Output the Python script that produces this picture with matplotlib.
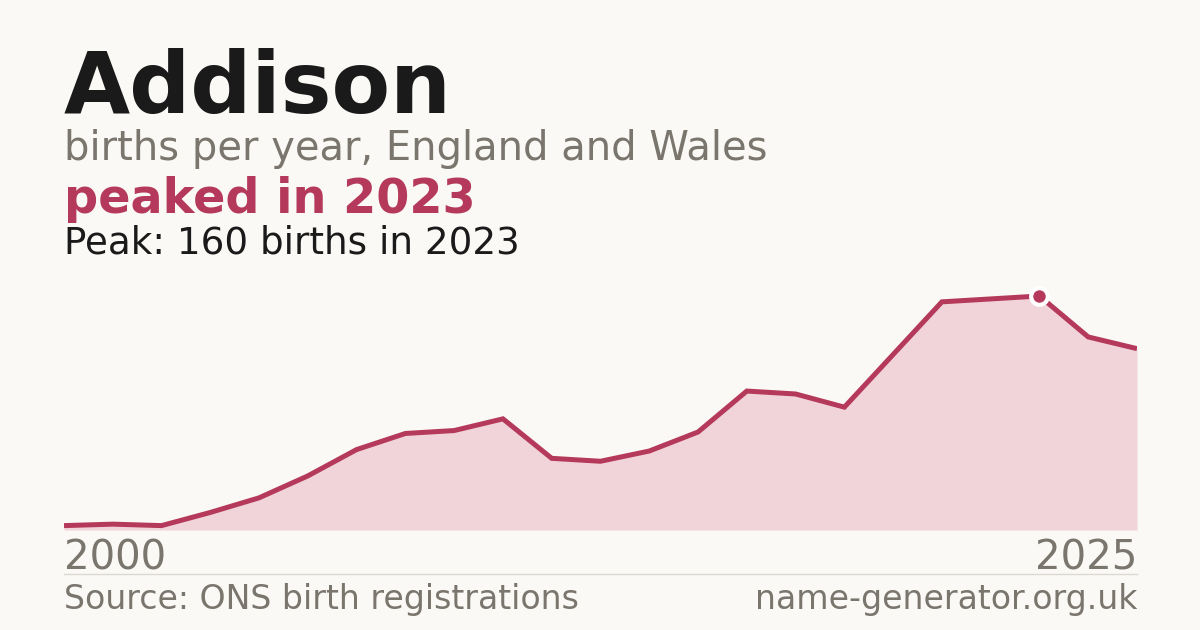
import matplotlib
matplotlib.use('Agg')
import matplotlib.pyplot as plt
from matplotlib.lines import Line2D

# data
years = [2003, 2004, 2005, 2006, 2007, 2008, 2009, 2010, 2011, 2012, 2013, 2014,
         2015, 2016, 2017, 2018, 2019, 2020, 2021, 2022, 2023, 2024, 2025]
births = [3, 4, 3, 12, 22, 37, 55, 66, 68, 76, 49, 47,
          54, 67, 95, 93, 84, 120, 156, 158, 160, 132, 124]
tick_labels = ['2000', '2025']
peak_year = 2023
peak_value = 160

bg = '#faf9f5'
dark = '#1a1a1a'
grey = '#7a756d'
crimson = '#b5395a'
fill_col = '#f0d4da'

plt.rcParams['font.family'] = ['DejaVu Sans']

W, H = 1200, 630
fig = plt.figure(figsize=(12, 6.3), dpi=100, facecolor=bg)

# plot area: x 64..1137 px, baseline y=530, peak drawn at y=296
top_px = 270
ax = fig.add_axes([64 / W, (H - 530) / H, (1137 - 64) / W, (530 - top_px) / H])
ax.set_facecolor(bg)
ax.fill_between(years, births, 0, color=fill_col, lw=0)
ax.plot(years, births, color=crimson, lw=3.6, solid_joinstyle='miter', solid_capstyle='butt')
ax.plot([peak_year], [peak_value], 'o', ms=12, mfc=crimson, mec='white', mew=3, zorder=5, clip_on=False)
ax.set_xlim(years[0], years[-1])
ax.set_ylim(0, peak_value * (530 - top_px) / (530 - 296))
ax.axis('off')

# titles
fig.text(64 / W, 1 - 113 / H, 'Addison', fontsize=61.6, fontweight='bold', color=dark, va='baseline')
fig.text(64 / W, 1 - 160 / H, 'births per year, England and Wales', fontsize=28.8, color=grey, va='baseline')
fig.text(64 / W, 1 - 213 / H, 'peaked in %d' % peak_year, fontsize=34.4, fontweight='bold', color=crimson, va='baseline')
fig.text(64 / W, 1 - 253 / H, 'Peak: %d births in %d' % (peak_value, peak_year), fontsize=26.8, color=dark, va='baseline')

# x labels at the ends
fig.text(64 / W, 1 - 570 / H, tick_labels[0], fontsize=29, color=grey, va='baseline', ha='left')
fig.text(1137 / W, 1 - 570 / H, tick_labels[1], fontsize=29, color=grey, va='baseline', ha='right')

# footer rule and text
fig.add_artist(Line2D([64 / W, 1137 / W], [1 - 574 / H, 1 - 574 / H], color='#dcd9d2', lw=1))
fig.text(64 / W, 1 - 609 / H, 'Source: ONS birth registrations', fontsize=23.9, color=grey, va='baseline')
fig.text(1137 / W, 1 - 609 / H, 'name-generator.org.uk', fontsize=23.9, color=grey, va='baseline', ha='right')

fig.savefig('out.png', dpi=100, facecolor=bg)
